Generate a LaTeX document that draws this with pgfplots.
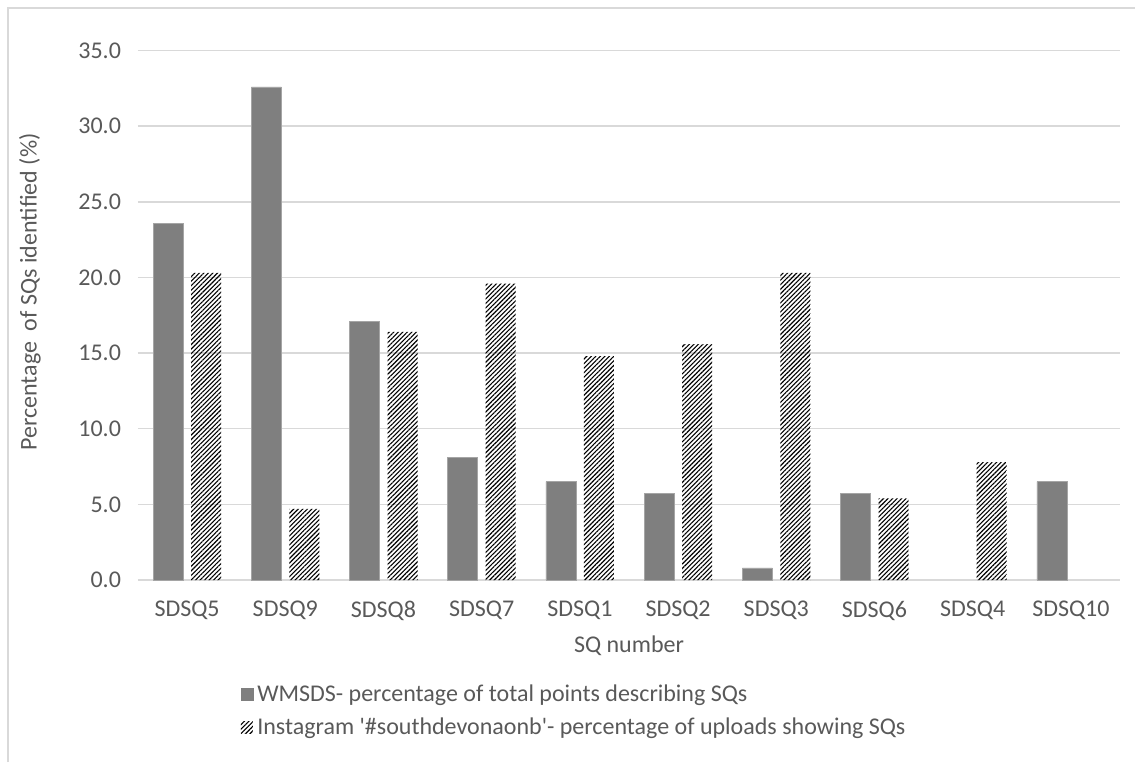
\documentclass[border=0pt]{standalone}
\usepackage{pgfplots}
\pgfplotsset{compat=1.18}
\usepackage{fontspec}
\setmainfont{Carlito}
\usetikzlibrary{patterns.meta}
\definecolor{txt}{RGB}{89,89,89}
\definecolor{gridc}{RGB}{217,217,217}
\definecolor{barc}{RGB}{127,127,127}
\definecolor{baredge}{RGB}{165,165,165}
\begin{document}
\begin{tikzpicture}
\path[use as bounding box] (0,0) rectangle (567.5pt,381pt);
\draw[gridc, line width=0.75pt] (4pt,0) -- (4pt,377pt) -- (567.5pt,377pt);
\begin{axis}[
  at={(69pt,91pt)}, anchor=south west,
  scale only axis, width=491pt, height=264.7pt,
  ybar, bar width=15pt,
  xmin=-0.5, xmax=9.5, ymin=0, ymax=35,
  xtick={0,...,9},
  xticklabels={SDSQ5,SDSQ9,SDSQ8,SDSQ7,SDSQ1,SDSQ2,SDSQ3,SDSQ6,SDSQ4,SDSQ10},
  ytick={0,5,...,35},
  /pgf/number format/.cd, fixed, fixed zerofill, precision=1, assume math mode=true,
  /pgfplots/.cd,
  ticklabel style={font=\fontsize{12}{14}\selectfont, text=txt},
  yticklabel style={xshift=-5pt},
  xticklabel style={yshift=-7pt},
  major tick length=0pt,
  axis line style={draw=none},
  ymajorgrids, major grid style={gridc, line width=0.75pt},
  xlabel={SQ number},
  xlabel style={at={(axis description cs:0.5,0)}, anchor=center, yshift=-33pt, font=\fontsize{12}{14}\selectfont, text=txt},
  ylabel={Percentage\ \ of SQs identified (\%)},
  ylabel style={at={(axis description cs:-0.11,0.544)}, anchor=center, font=\fontsize{12}{14}\selectfont, text=txt},
  legend style={at={(0.104,-0.19)}, anchor=north west, draw=none, fill=none,
    font=\fontsize{12}{14}\selectfont, text=txt, cells={anchor=west}, row sep=2.5pt, inner sep=0pt},
]
\addplot[fill=barc, draw=baredge, line width=0.4pt, bar shift=-9.5pt,
  legend image code/.code={\fill[barc] (0pt,-3pt) rectangle (6pt,3pt);}]
  coordinates {(0,23.6) (1,32.6) (2,17.1) (3,8.1) (4,6.5) (5,5.7) (6,0.8) (7,5.7) (9,6.5)};
\addlegendentry{WMSDS- percentage of total points describing SQs}
\addplot[draw=none, pattern={Lines[angle=45,distance=1.6pt,line width=0.55pt]}, pattern color=black, bar shift=9.5pt,
  legend image code/.code={\fill[pattern={Lines[angle=45,distance=1.6pt,line width=0.55pt]}, pattern color=black] (0pt,-3pt) rectangle (6pt,3pt);}]
  coordinates {(0,20.3) (1,4.7) (2,16.4) (3,19.6) (4,14.8) (5,15.6) (6,20.3) (7,5.4) (8,7.8)};
\addlegendentry{Instagram \textquotesingle\#southdevonaonb\textquotesingle- percentage of uploads showing SQs}
\end{axis}
\end{tikzpicture}
\end{document}
